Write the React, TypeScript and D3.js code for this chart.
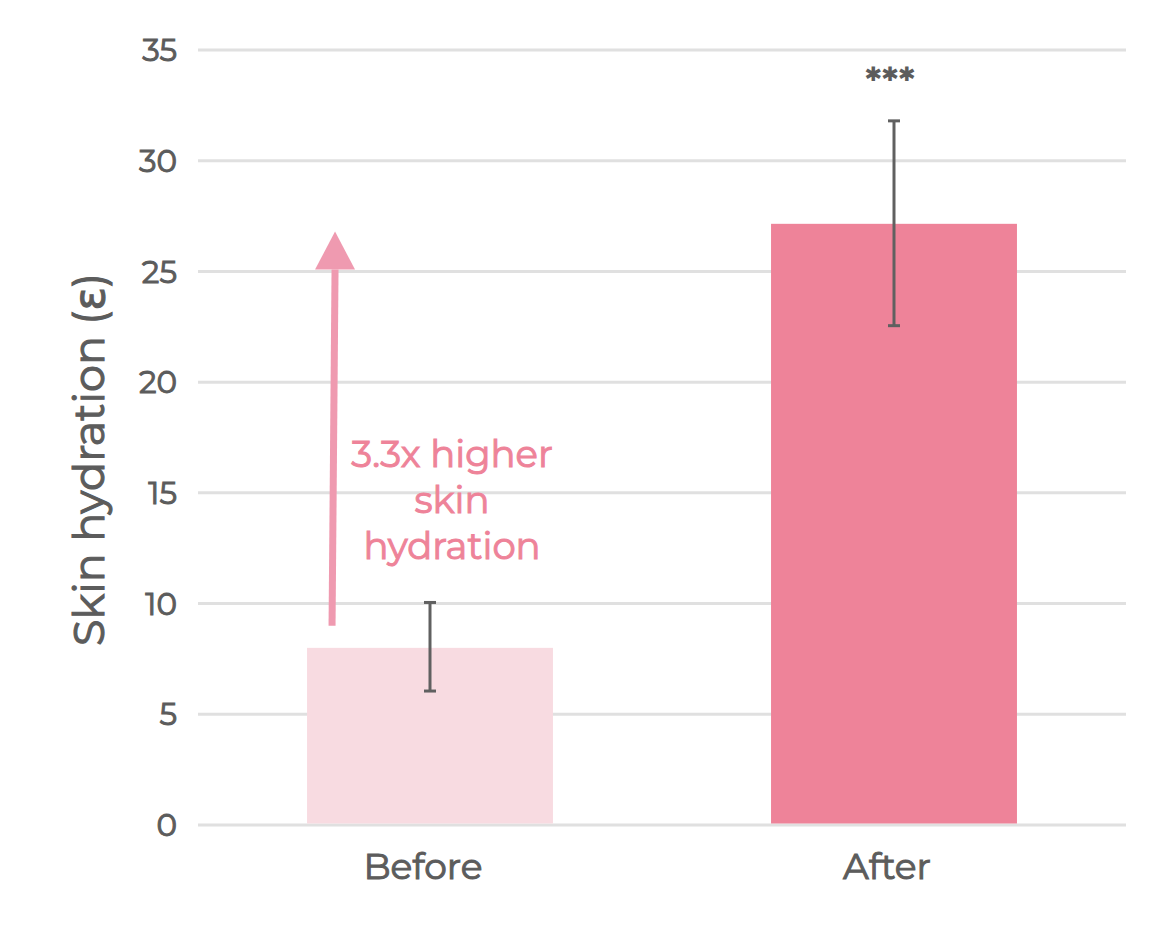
import React from "react";
import * as d3 from "d3";

const categories = ["Before", "After"];
const means = [8.0, 27.15];
const errLow = [6.05, 22.55];
const errHigh = [10.05, 31.8];
const barColors = ["#f8dbe1", "#ee8399"];
const yTicks = [0, 5, 10, 15, 20, 25, 30, 35];
const arrowFrom = 9.0;
const arrowTo = 26.8;
const annotationLines = ["3.3x higher", "skin", "hydration"];
const significance = "***";

const W = 1168;
const H = 930;
const FONT = "'Montserrat', 'DejaVu Sans', sans-serif";
const GREY = "#5c5c5c";
const PINK_TEXT = "#ee8399";

export default function App() {
  const left = 198, right = 1126, top = 50, bottom = 825;
  const x = d3.scaleBand<string>().domain(categories).range([left, right]).paddingInner(0.47).paddingOuter(0.235);
  const y = d3.scaleLinear().domain([0, 35]).range([bottom, top]);
  const bw = x.bandwidth();
  const arrowX0 = x("Before")! + 25;
  const arrowX1 = arrowX0 + 3;
  const headBase = y(arrowTo) + 38;
  const med = (c: string, w = 1.0) => ({ fill: c, stroke: c, strokeWidth: w });
  return (
    <svg width={W} height={H} style={{ position: "absolute", left: 0, top: 0, background: "#fff" }}>
      {yTicks.map((t) => (
        <g key={t}>
          <line x1={left} x2={right} y1={y(t)} y2={y(t)} stroke="#e0e0e0" strokeWidth={3} />
          <text x={177} y={y(t)} dy="0.36em" textAnchor="end" fontFamily={FONT} fontSize={31} {...med(GREY)}>
            {t}
          </text>
        </g>
      ))}
      {categories.map((c, i) => {
        const cx = x(c)! + bw / 2;
        return (
          <g key={c}>
            <rect x={x(c)!} y={y(means[i])} width={bw} height={y(0) - y(means[i]) - 1.5} fill={barColors[i]} />
            <line x1={cx} x2={cx} y1={y(errHigh[i])} y2={y(errLow[i])} stroke="#606060" strokeWidth={3} />
            <line x1={cx - 6} x2={cx + 6} y1={y(errHigh[i])} y2={y(errHigh[i])} stroke="#606060" strokeWidth={3} />
            <line x1={cx - 6} x2={cx + 6} y1={y(errLow[i])} y2={y(errLow[i])} stroke="#606060" strokeWidth={3} />
            <text x={cx - 7} y={879} textAnchor="middle" fontFamily={FONT} fontSize={36} {...med(GREY)}>
              {c}
            </text>
          </g>
        );
      })}
      <text x={x("After")! + bw / 2 - 4} y={94} textAnchor="middle" fontFamily={FONT} fontWeight="bold" fontSize={37} fill={GREY}>
        {significance}
      </text>
      <line x1={arrowX0} y1={y(arrowFrom)} x2={arrowX1} y2={headBase} stroke="#ef9ab0" strokeWidth={7} />
      <polygon
        points={`${arrowX1 - 20},${headBase} ${arrowX1 + 20},${headBase} ${arrowX1},${y(arrowTo)}`}
        fill="#ef9ab0"
      />
      {annotationLines.map((l, i) => (
        <text key={l} x={452} y={467 + i * 46} textAnchor="middle" fontFamily={FONT} fontSize={37} {...med(PINK_TEXT)}>
          {l}
        </text>
      ))}
      <text
        transform={`translate(104, ${(top + bottom) / 2 + 22}) rotate(-90)`}
        textAnchor="middle"
        fontFamily={FONT}
        fontSize={43}
        {...med(GREY, 1.1)}
      >
        Skin hydration (ε)
      </text>
    </svg>
  );
}
